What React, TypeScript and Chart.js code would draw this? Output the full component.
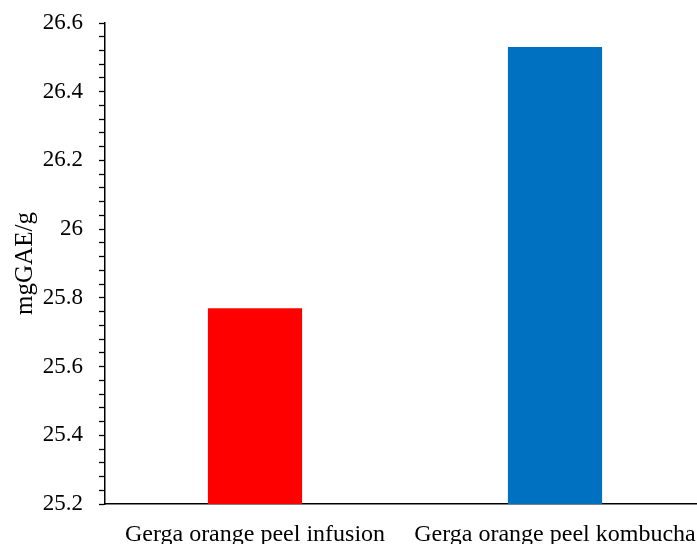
import React, { useEffect, useRef } from "react";
import { Chart, registerables } from "chart.js";

Chart.register(...registerables);

const categories = ["Gerga orange peel infusion", "Gerga orange peel kombucha"];
const values = [25.77, 26.53];
const barColors = ["#FF0000", "#0070C0"];
const yTitle = "mgGAE/g";
const yMin = 25.2;
const yMax = 26.6;

export default function App() {
  const ref = useRef<HTMLCanvasElement | null>(null);
  useEffect(() => {
    if (!ref.current) return;
    const family = "'Liberation Serif', 'Times New Roman', serif";
    const chart = new Chart(ref.current, {
      type: "bar",
      data: {
        labels: categories,
        datasets: [
          {
            data: values,
            backgroundColor: barColors,
            borderWidth: 0,
            categoryPercentage: 1,
            barPercentage: 0.314,
          },
        ],
      },
      options: {
        animation: false,
        responsive: false,
        maintainAspectRatio: false,
        layout: { padding: { top: 23, left: 0, right: 0, bottom: 0 } },
        plugins: { legend: { display: false }, tooltip: { enabled: false } },
        scales: {
          x: {
            grid: { display: false },
            border: { display: true, color: "#000", width: 1.5 },
            ticks: { color: "#000", font: { family, size: 24 }, padding: 8 },
            afterFit: (s: any) => {
              s.height = 40;
            },
          },
          y: {
            min: yMin,
            max: yMax,
            grid: {
              drawOnChartArea: false,
              drawTicks: true,
              tickLength: 6,
              tickColor: "#000",
              tickWidth: 1.3,
            },
            border: { display: true, color: "#000", width: 1.5 },
            ticks: {
              stepSize: 0.04,
              autoSkip: false,
              color: "#000",
              font: { family, size: 23 },
              padding: 16,
              callback: (v: any) => {
                const n = Number(v);
                const r = n / 0.2;
                if (Math.abs(r - Math.round(r)) < 1e-6) {
                  return String(Number(n.toFixed(1)));
                }
                return "";
              },
            },
            title: {
              display: true,
              text: yTitle,
              color: "#000",
              font: { family, size: 25 },
              padding: { top: 10, bottom: 0 },
            },
            afterFit: (s: any) => {
              s.width = 105;
              s.paddingTop = 0;
              s.paddingBottom = 0;
            },
          },
        },
      },
    });
    return () => chart.destroy();
  }, []);
  return (
    <div style={{ position: "absolute", left: 0, top: 0, width: 697, height: 544, overflow: "hidden", background: "#fff" }}>
      <canvas ref={ref} width={705} height={544} style={{ width: 705, height: 544, display: "block" }} />
    </div>
  );
}
